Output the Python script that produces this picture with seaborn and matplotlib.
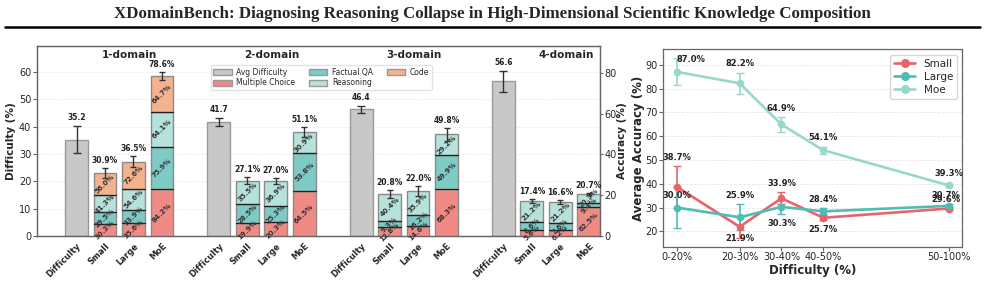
import numpy as np
import pandas as pd
import matplotlib
matplotlib.use("Agg")
import matplotlib.pyplot as plt
import seaborn as sns
from matplotlib.patches import Patch
from matplotlib.lines import Line2D

# ---------------- data ----------------
domains = ["1-domain", "2-domain", "3-domain", "4-domain"]
bar_names = ["Difficulty", "Small", "Large", "MoE"]
difficulty = [35.2, 41.7, 46.4, 56.6]
difficulty_err = [5.0, 1.3, 1.3, 3.8]

small_total = [30.9, 27.1, 20.8, 17.4]
large_total = [36.5, 27.0, 22.0, 16.6]
moe_total = [78.6, 51.1, 49.8, 20.7]
small_err = [2.3, 1.7, 2.0, 1.0]
large_err = [2.6, 1.7, 2.3, 1.0]
moe_err = [2.0, 2.3, 3.0, 0.4]

small_mc = [30.3, 19.9, 12.8, 5.6]
small_fact = [29.5, 28.5, 9.3, 8.6]
small_reas = [41.3, 35.5, 40.4, 21.2]
small_code = [56.0, np.nan, np.nan, np.nan]
large_mc = [35.6, 20.3, 14.6, 6.2]
large_fact = [33.9, 25.3, 16.2, 7.6]
large_reas = [54.6, 36.9, 35.9, 21.2]
large_code = [72.6, np.nan, np.nan, np.nan]
moe_mc = [84.2, 64.5, 68.3, 62.5]
moe_fact = [75.9, 53.8, 49.9, 9.4]
moe_reas = [64.1, 30.9, 29.2, 20.3]
moe_code = [64.7, np.nan, np.nan, np.nan]

task_types = ["Multiple Choice", "Factual QA", "Reasoning", "Code"]

bins = ["0-20%", "20-30%", "30-40%", "40-50%", "50-100%"]
bin_mid = [10, 25, 35, 45, 75]
line_small = [38.7, 21.9, 33.9, 25.7, 29.6]
line_small_err = [8.7, 4.6, 2.6, 1.0, 0.8]
line_large = [30.0, 25.9, 30.3, 28.4, 30.7]
line_large_err = [8.5, 5.4, 3.0, 1.3, 0.8]
line_moe = [87.0, 82.2, 64.9, 54.1, 39.3]
line_moe_err = [5.7, 4.5, 3.2, 1.4, 0.6]

# ---------------- style ----------------
sns.set_theme(style="white")
plt.rcParams["font.family"] = ["DejaVu Sans"]
C_DIFF = "#c8c8c8"
C_TYPE = {"Multiple Choice": "#f08a84", "Factual QA": "#7ecbc5",
          "Reasoning": "#b5e2da", "Code": "#f5b28f"}
C_LINE = {"Small": "#e8646a", "Large": "#4fbdb3", "Moe": "#98d8c8"}
SPINE = "#666666"

fig = plt.figure(figsize=(9.85, 2.82), dpi=100)

fig.text(0.5, 0.952,
         "XDomainBench: Diagnosing Reasoning Collapse in High-Dimensional Scientific Knowledge Composition",
         ha="center", va="center", fontfamily="Liberation Serif", fontweight="bold", fontsize=12.2)
fig.add_artist(Line2D([0.005, 0.995], [0.905, 0.905], transform=fig.transFigure,
                      color="black", lw=1.8))

# ---------------- left panel ----------------
ax = fig.add_axes([0.0373, 0.163, 0.572, 0.674])
ax2 = ax.twinx()

group_step = 5
diff_x = [g * group_step for g in range(len(domains))]
width = 0.8

ax.bar(diff_x, difficulty, width=width, color=C_DIFF, edgecolor="#999999", lw=1, zorder=2)
ax.errorbar(diff_x, difficulty, yerr=difficulty_err, fmt="none", ecolor="#333333",
            elinewidth=1, capsize=3, zorder=3)
for x, v, e in zip(diff_x, difficulty, difficulty_err):
    ax.annotate(f"{v:.1f}", (x, v + e), xytext=(0, 4), textcoords="offset pixels",
                ha="center", va="bottom", fontsize=5.5, fontweight="bold", color="#222222")

model_data = [
    (small_total, small_err, [small_mc, small_fact, small_reas, small_code]),
    (large_total, large_err, [large_mc, large_fact, large_reas, large_code]),
    (moe_total, moe_err, [moe_mc, moe_fact, moe_reas, moe_code]),
]
for mi, (tot, err, parts) in enumerate(model_data):
    for g in range(len(domains)):
        x = g * group_step + 1 + mi
        vals = [p[g] for p in parts]
        s = np.nansum(vals)
        bottom = 0.0
        for t, v in zip(task_types, vals):
            if np.isnan(v):
                continue
            h = v / s * tot[g]
            ax2.bar(x, h, bottom=bottom, width=width, color=C_TYPE[t],
                    edgecolor="#8a8a8a", lw=1, zorder=2)
            if bottom > 0:
                ax2.plot([x - width / 2, x + width / 2], [bottom, bottom],
                         color="#222222", lw=0.9, zorder=3)
            ax2.text(x, bottom + h / 2, f"{v:.1f}%", rotation=45, ha="center", va="center",
                     fontsize=5, fontweight="bold", color="#333333", zorder=4)
            bottom += h
        ax2.errorbar(x, tot[g], yerr=err[g], fmt="none", ecolor="#333333",
                     elinewidth=1, capsize=2.5, zorder=5)
        ax2.annotate(f"{tot[g]:.1f}%", (x, tot[g] + err[g]), xytext=(0, 3),
                     textcoords="offset pixels", ha="center", va="bottom",
                     fontsize=5.5, fontweight="bold", color="#222222", zorder=6)

title_x = [1.85, 6.85, 11.85, 17.2]
for tx, d in zip(title_x, domains):
    ax.text(tx, 0.955, d, transform=ax.get_xaxis_transform(), ha="center", va="center",
            fontsize=7.5, fontweight="bold")

all_x = [g * group_step + j for g in range(len(domains)) for j in range(len(bar_names))]
ax.set_xticks(all_x)
ax.set_xticklabels(bar_names * len(domains), rotation=45, ha="right",
                   rotation_mode="anchor", fontsize=6, fontweight="bold")
ax.tick_params(axis="x", length=3, width=0.8, color=SPINE, pad=1)
ax.set_xlim(-1.4, 18.4)
ax.set_ylim(0, 69.5)
ax2.set_ylim(0, 93.2)
ax.set_yticks([0, 10, 20, 30, 40, 50, 60])
ax2.set_yticks([0, 20, 40, 60, 80])
ax.tick_params(axis="y", labelsize=7, length=3, width=0.8, color=SPINE, pad=1, left=True)
ax2.tick_params(axis="y", labelsize=7, length=2.5, width=0.8, color=SPINE, pad=0.5, right=True)
ax.set_ylabel("Difficulty (%)", fontsize=7.5, fontweight="bold", labelpad=2)
ax2.set_ylabel("Accuracy (%)", fontsize=7.5, fontweight="bold", labelpad=0)
ax.yaxis.grid(True, linestyle=":", color="#dddddd", lw=0.6)
ax.set_axisbelow(True)
for a in (ax, ax2):
    for sp in a.spines.values():
        sp.set_color(SPINE)
        sp.set_linewidth(0.9)

handles = [Patch(facecolor=C_DIFF, edgecolor="#999999", label="Avg Difficulty")]
handles += [Patch(facecolor=C_TYPE[t], edgecolor="#999999", label=t) for t in task_types]
ax2.legend(handles=handles, loc="upper center", bbox_to_anchor=(0.505, 0.92), ncol=3,
           fontsize=5.5, frameon=True, edgecolor="#dddddd", handlelength=2.4,
           handleheight=0.9, columnspacing=1.8, borderpad=0.35, labelspacing=0.22,
           handletextpad=0.6)

# ---------------- right panel ----------------
ax3 = fig.add_axes([0.6734, 0.125, 0.3036, 0.70])
series = [("Small", line_small, line_small_err),
          ("Large", line_large, line_large_err),
          ("Moe", line_moe, line_moe_err)]
df = pd.concat([pd.DataFrame({"x": bin_mid, "acc": v, "model": n}) for n, v, _ in series])
sns.lineplot(data=df, x="x", y="acc", hue="model", palette=C_LINE, marker="o",
             markersize=5.5, markeredgewidth=0, linewidth=1.9, ax=ax3, legend=False)
for n, v, e in series:
    ax3.errorbar(bin_mid, v, yerr=e, fmt="none", ecolor=C_LINE[n], elinewidth=1.2,
                 capsize=3, zorder=1)

label_offsets = {
    "Small": [(0, 29), (0, -12), (0, 15), (0, -12), (-3, 9)],
    "Large": [(0, 12), (0, 22), (0, -17), (0, 12), (-3, 10)],
    "Moe": [(14, 12), (0, 20), (0, 16), (0, 13), (0, 12)],
}
for n, v, e in series:
    for x, y, off in zip(bin_mid, v, label_offsets[n]):
        ax3.annotate(f"{y:.1f}%", (x, y), xytext=off, textcoords="offset pixels",
                     ha="center", va="center", fontsize=6, fontweight="bold", color="#222222")

ax3.set_xticks(bin_mid)
ax3.set_xticklabels(bins)
ax3.set_yticks([20, 30, 40, 50, 60, 70, 80, 90])
ax3.tick_params(labelsize=7, length=3, width=0.8, color=SPINE, pad=1, left=True, bottom=True)
ax3.set_xlabel("Difficulty (%)", fontsize=8.5, fontweight="bold", labelpad=1)
ax3.set_ylabel("Average Accuracy (%)", fontsize=8.5, fontweight="bold", labelpad=0)
ax3.yaxis.grid(True, linestyle="--", color="#e6e6e6", lw=0.6)
ax3.set_axisbelow(True)
for sp in ax3.spines.values():
    sp.set_color(SPINE)
    sp.set_linewidth(0.9)
lh = [Line2D([0], [0], color=C_LINE[n], marker="o", markersize=5.5, lw=1.9, label=n)
      for n, _, _ in series]
ax3.legend(handles=lh, loc="upper right", fontsize=7.5, frameon=True, edgecolor="#cccccc",
           handlelength=2.0, borderpad=0.4, labelspacing=0.3)

fig.savefig("out.png", dpi=100)
